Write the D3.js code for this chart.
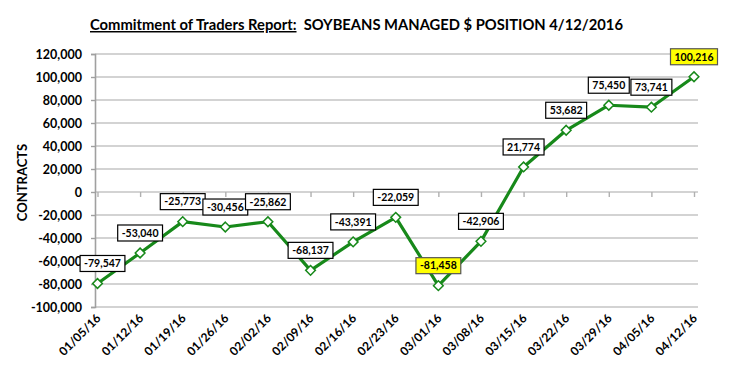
<!DOCTYPE html>
<html><head><meta charset="utf-8">
<script src="https://cdn.jsdelivr.net/npm/d3@7"></script>
<style>
html,body{margin:0;padding:0;background:#fff;}
text{font-family:Lato,"Open Sans",sans-serif;font-weight:bold;}
</style></head>
<body><svg id="c" width="732" height="367"></svg>
<script>
const dates = ["01/05/16","01/12/16","01/19/16","01/26/16","02/02/16","02/09/16","02/16/16","02/23/16","03/01/16","03/08/16","03/15/16","03/22/16","03/29/16","04/05/16","04/12/16"];
const positions = [-79547,-53040,-25773,-30456,-25862,-68137,-43391,-22059,-81458,-42906,21774,53682,75450,73741,100216];
const yTicks = [-100000,-80000,-60000,-40000,-20000,0,20000,40000,60000,80000,100000,120000];
const highlighted = ["03/01/16","04/12/16"];

const svg = d3.select("#c");
const pL = 95, pR = 698, pT = 54, pB = 307;
const x = d3.scalePoint().domain(dates).range([97.5, 694]);
const y = d3.scaleLinear().domain([-100000,120000]).range([pB, pT]);
const f0 = d3.format(",");
const fmt = v => f0(v).replace("\u2212", "-");

// title
const title = svg.append("text").attr("x", 90).attr("y", 30).attr("font-size", 16).attr("fill","#000");
title.append("tspan").attr("text-decoration","underline").text("Commitment of Traders Report:");
title.append("tspan").text("\u00a0\u00a0SOYBEANS MANAGED $ POSITION 4/12/2016");
const tl = title.node().getComputedTextLength();
title.attr("font-size", 16 * 533 / tl);

// gridlines
svg.append("g").selectAll("line").data(yTicks).join("line")
  .attr("x1", pL).attr("x2", pR)
  .attr("y1", d => y(d)).attr("y2", d => y(d))
  .attr("stroke", "#c4c4c4").attr("stroke-width", 1.6);

// y axis
const yAxis = svg.append("g").attr("transform", `translate(${pL},0)`)
  .call(d3.axisLeft(y).tickValues(yTicks).tickFormat(fmt).tickSize(4).tickPadding(9));
yAxis.select(".domain").attr("stroke", "#a0a0a0").attr("stroke-width", 1.6);
yAxis.selectAll(".tick line").attr("stroke", "#a0a0a0").attr("stroke-width", 1.4);
yAxis.selectAll(".tick text").attr("font-size", 12.5).attr("fill", "#000")
  .style("font-family","Lato").style("font-weight","bold");

// zero (category) axis with ticks down
const xAxis = svg.append("g").attr("transform", `translate(0,${y(0)})`)
  .call(d3.axisBottom(x).tickSize(5).tickFormat(""));
xAxis.select(".domain").remove();
xAxis.selectAll(".tick line").attr("stroke", "#b0b0b0").attr("stroke-width", 1.4);

// x labels at bottom, rotated
svg.append("g").selectAll("text").data(dates).join("text")
  .attr("transform", d => `translate(${x(d)+4},${pB+12}) rotate(-45)`)
  .attr("text-anchor", "end").attr("font-size", 12).attr("fill", "#000")
  .text(d => d);

// y title
svg.append("text").attr("transform", `translate(27,${(pT+pB)/2 + 2}) rotate(-90)`)
  .attr("text-anchor","middle").attr("font-size", 13).attr("fill","#000").text("CONTRACTS");

// line
const data = dates.map((d,i) => ({d, v: positions[i]}));
svg.append("path").datum(data)
  .attr("fill","none").attr("stroke","#17891a").attr("stroke-width",3.2).attr("stroke-linejoin","round")
  .attr("d", d3.line().x(p => x(p.d)).y(p => y(p.v)));

// markers
svg.append("g").selectAll("path").data(data).join("path")
  .attr("transform", p => `translate(${x(p.d)},${y(p.v)})`)
  .attr("d", d3.symbol(d3.symbolDiamond2, 60))
  .attr("fill","#fff").attr("stroke","#17891a").attr("stroke-width",1.5);

// labels
const lg = svg.append("g").selectAll("g").data(data).join("g")
  .attr("transform", (p,i) => `translate(${x(p.d) + (i === 0 ? 5 : 0)},${y(p.v)-20})`);
lg.each(function(p){
  const g = d3.select(this);
  const hl = highlighted.includes(p.d);
  const rect = g.append("rect").attr("fill", hl ? "#ffff00" : "#fff")
    .attr("stroke", hl ? "#555" : "#000").attr("stroke-width", 1.2);
  const t = g.append("text").attr("text-anchor","middle").attr("dy","0.36em")
    .attr("font-size", 10.5).attr("fill","#000").text(fmt(p.v));
  const w = t.node().getComputedTextLength();
  rect.attr("x", -w/2 - 4).attr("y", -8).attr("width", w + 8).attr("height", 16);
});
</script></body></html>
